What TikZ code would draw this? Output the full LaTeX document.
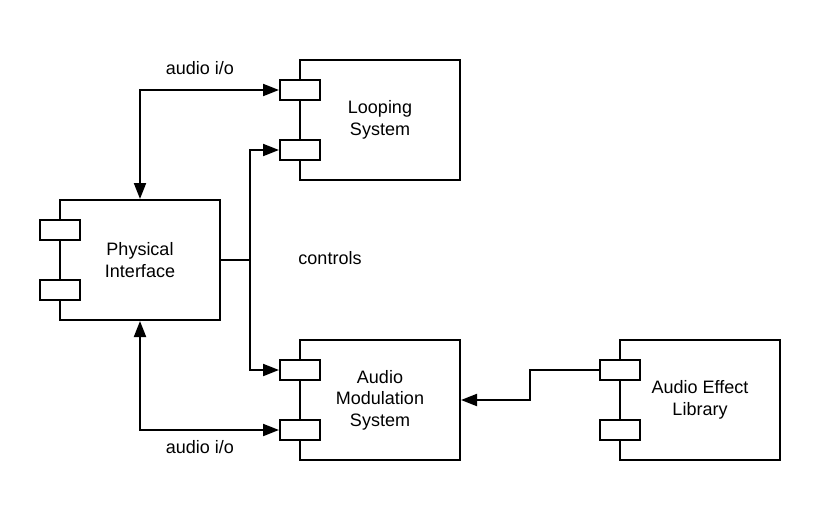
\documentclass[tikz,border=0pt]{standalone}
\usepackage{fontspec}
\setmainfont{Liberation Sans}
\usetikzlibrary{arrows.meta}
\begin{document}
\begin{tikzpicture}[x=1pt,y=-1pt,
  comp/.style={draw,line width=2pt,minimum width=160pt,minimum height=120pt,inner sep=0pt,align=center,font=\fontsize{18}{21.5}\selectfont},
  port/.style={draw,line width=2pt,fill=white,minimum width=40pt,minimum height=20pt,inner sep=0pt},
  conn/.style={line width=2pt},
  tip/.style={-{Triangle[length=16pt,width=12pt]}},
  both/.style={{Triangle[length=16pt,width=12pt]}-{Triangle[length=16pt,width=12pt]}},
  lbl/.style={font=\fontsize{18}{21.5}\selectfont}]
\path[use as bounding box,fill=white] (0,0) rectangle (820,520);
% components
\node[comp] (loop) at (380,120) {Looping\\System};
\node[port] (lp1) at (300,90) {};
\node[port] (lp2) at (300,150) {};
\node[comp] (phys) at (140,260) {Physical\\Interface};
\node[port] (ph1) at (60,230) {};
\node[port] (ph2) at (60,290) {};
\node[comp] (am) at (380,400) {Audio\\Modulation\\System};
\node[port] (am1) at (300,370) {};
\node[port] (am2) at (300,430) {};
\node[comp] (ae) at (700,400) {Audio Effect\\Library};
\node[port] (ae1) at (620,370) {};
\node[port] (ae2) at (620,430) {};
% connectors
\draw[conn,both] (phys.north) |- (lp1.west);
\draw[conn,both] (phys.south) |- (am2.west);
\coordinate (ctrl) at (250,260);
\draw[conn] (phys.east) -- (ctrl);
\draw[conn,tip] (ctrl) |- (lp2.west);
\draw[conn,tip] (ctrl) |- (am1.west);
\coordinate (elbow) at (530,400);
\draw[conn,tip] (ae1.west) -| (elbow) -- (am.east);
% labels
\node[lbl] (l1) at (200,68) {audio i/o};
\node[lbl] (l2) at (200,447) {audio i/o};
\node[lbl] (l3) at (330,258) {controls};
\end{tikzpicture}
\end{document}
